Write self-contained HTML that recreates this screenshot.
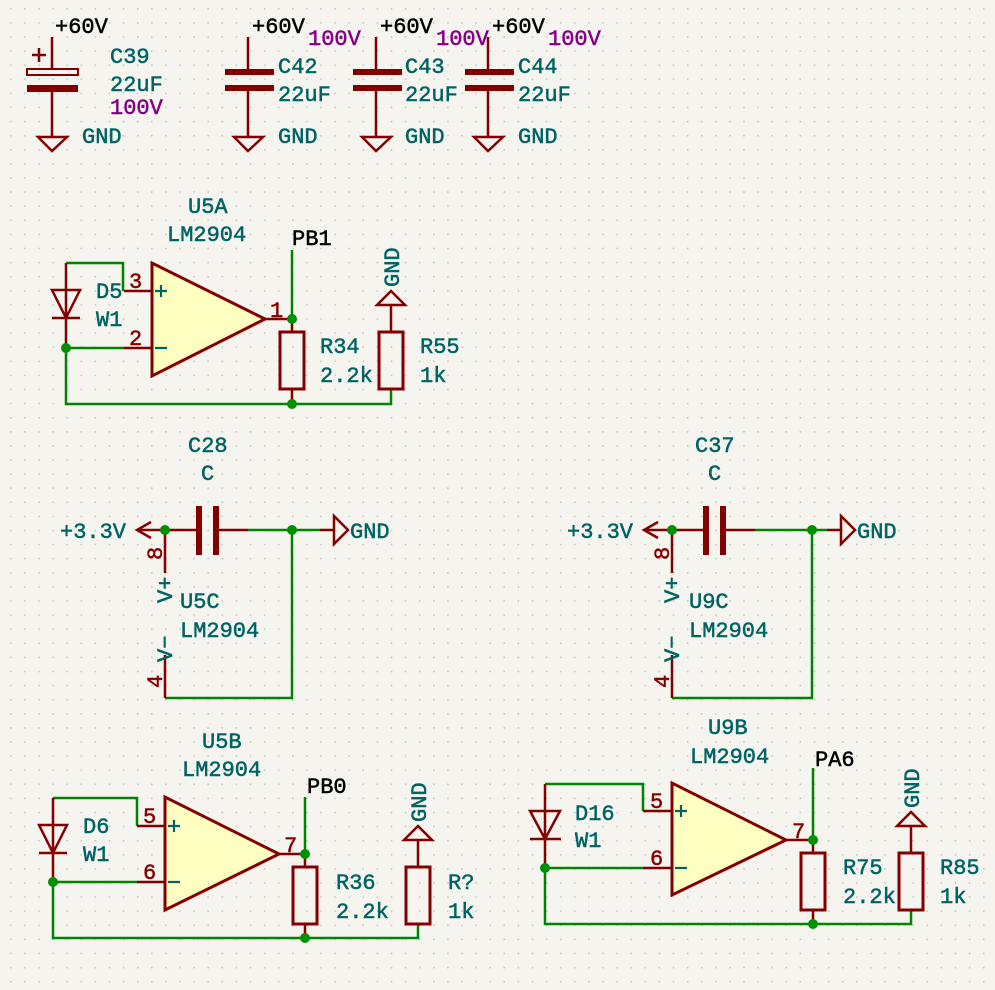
<!DOCTYPE html>
<html><head><meta charset="utf-8"><style>
html,body{margin:0;padding:0;background:#f5f4ef;}
svg{display:block}
text{font-family:"Liberation Mono",monospace;font-size:22px;fill:#006464;stroke:#006464;stroke-width:0.5}
.k{fill:#000;stroke:#000}.p{fill:#840084;stroke:#840084}.r{fill:#840000;stroke:#840000}
.w{stroke:#008400;stroke-width:2.5;fill:none}
.d{stroke:#840000;stroke-width:2.5;fill:none}
.t{stroke:#840000;stroke-width:6;fill:none}
.o{stroke:#840000;stroke-width:3;fill:#ffffc2}
.s{stroke:#006464;stroke-width:2.2;fill:none}
.j{fill:#009000}
</style></head><body>
<svg width="995" height="990" viewBox="0 0 995 990" xmlns="http://www.w3.org/2000/svg">
<defs><pattern id="g" x="10" y="8" width="14.1" height="14.1" patternUnits="userSpaceOnUse"><rect x="0" y="0" width="1.6" height="1.6" fill="#c8c8c8"/></pattern></defs>
<rect width="995" height="990" fill="url(#g)"/>

<!-- C39 -->
<path class="d" d="M52 37V69M52 91V137M38 137H67L52 151Z"/>
<rect x="27" y="69" width="51" height="6" fill="none" stroke="#840000" stroke-width="2"/>
<rect x="27" y="85" width="51" height="7" fill="#840000"/>
<path class="d" d="M32 55H46M39 48V62"/>
<text class="k" x="55" y="33">+60V</text>
<text x="110" y="63">C39</text><text x="110" y="91">22uF</text><text class="p" x="110" y="114">100V</text>
<text x="82" y="143">GND</text>

<!-- C42/43/44 -->
<g>
<path class="d" d="M248 37V72M248 88V137M234 137H263L248 151Z"/><path class="t" d="M225 72H274M225 88H274"/>
<text class="k" x="252" y="33">+60V</text><text class="p" x="308" y="45">100V</text>
<text x="278" y="73">C42</text><text x="278" y="101">22uF</text><text x="278" y="143">GND</text>
</g>
<g>
<path class="d" d="M376 37V72M376 88V137M362 137H391L376 151Z"/><path class="t" d="M353 72H402M353 88H402"/>
<text class="k" x="380" y="33">+60V</text><text class="p" x="436" y="45">100V</text>
<text x="405" y="73">C43</text><text x="405" y="101">22uF</text><text x="405" y="143">GND</text>
</g>
<g>
<path class="d" d="M488 37V72M488 88V137M474 137H503L488 151Z"/><path class="t" d="M465 72H514M465 88H514"/>
<text class="k" x="492" y="33">+60V</text><text class="p" x="548" y="45">100V</text>
<text x="518" y="73">C44</text><text x="518" y="101">22uF</text><text x="518" y="143">GND</text>
</g>

<!-- U5A -->
<path class="w" d="M66 263H123V291M66 348H124M66 348V404H391V389M292 250V319"/>
<path class="d" d="M124 291H152M124 348H152M265 319H292M66 263V348M52 290H80L66 318ZM52 318H80M292 319V332M292 389V404M391 305V332M377 305H405L391 291Z"/>
<polygon class="o" points="152,263 152,376 265,319"/>
<path class="s" d="M155 291H167M161 285V297M155 348H167"/>
<rect x="280" y="332" width="24" height="57" fill="none" stroke="#840000" stroke-width="3"/>
<rect x="379" y="332" width="24" height="57" fill="none" stroke="#840000" stroke-width="3"/>
<circle class="j" cx="292" cy="319" r="5"/><circle class="j" cx="292" cy="404" r="5"/><circle class="j" cx="66" cy="348" r="5"/>
<text class="r" x="129" y="288">3</text><text class="r" x="129" y="345">2</text><text class="r" x="270" y="317">1</text>
<text class="k" x="292" y="245">PB1</text>
<text x="188" y="213">U5A</text><text x="167" y="241">LM2904</text>
<text x="96" y="298">D5</text><text x="96" y="326">W1</text>
<text x="320" y="353">R34</text><text x="320" y="382">2.2k</text>
<text x="420" y="353">R55</text><text x="420" y="382">1k</text>
<text transform="translate(399,287) rotate(-90)">GND</text>

<!-- U5C -->
<path class="w" d="M248 530H320M292 530V698H165"/>
<path class="d" d="M137 530H199M151 522L137 530L151 538M216 530H248M320 530H334M334 516V544L348 530ZM165 530V573M165 655V698"/>
<path class="t" d="M199 506V555M216 506V555"/>
<circle class="j" cx="165" cy="530" r="5"/><circle class="j" cx="292" cy="530" r="5"/>
<text x="60" y="538">+3.3V</text><text x="350" y="538">GND</text>
<text x="188" y="452">C28</text><text x="201" y="480">C</text>
<text x="180" y="608">U5C</text><text x="180" y="637">LM2904</text>
<text class="r" transform="translate(162,560) rotate(-90)">8</text>
<text class="r" transform="translate(162,688) rotate(-90)">4</text>
<text transform="translate(172,603) rotate(-90)">V+</text>
<text transform="translate(172,662) rotate(-90)">V−</text>

<!-- U9C -->
<path class="w" d="M755 530H827M812 530V698H672"/>
<path class="d" d="M644 530H706M658 522L644 530L658 538M723 530H755M827 530H841M841 516V544L855 530ZM672 530V573M672 655V698"/>
<path class="t" d="M706 506V555M723 506V555"/>
<circle class="j" cx="672" cy="530" r="5"/><circle class="j" cx="812" cy="530" r="5"/>
<text x="567" y="538">+3.3V</text><text x="857" y="538">GND</text>
<text x="695" y="452">C37</text><text x="708" y="480">C</text>
<text x="689" y="608">U9C</text><text x="689" y="637">LM2904</text>
<text class="r" transform="translate(669,560) rotate(-90)">8</text>
<text class="r" transform="translate(669,688) rotate(-90)">4</text>
<text transform="translate(679,603) rotate(-90)">V+</text>
<text transform="translate(679,662) rotate(-90)">V−</text>

<!-- U5B -->
<path class="w" d="M53 798H137V826M53 882H137M53 882V938H418V924M305 797V854"/>
<path class="d" d="M137 826H165M137 882H165M279 854H305M53 798V882M39 825H67L53 853ZM39 853H67M305 854V867M305 924V938M418 840V867M404 840H432L418 826Z"/>
<polygon class="o" points="165,797 165,910 279,854"/>
<path class="s" d="M168 826H180M174 820V832M168 882H180"/>
<rect x="293" y="867" width="24" height="57" fill="none" stroke="#840000" stroke-width="3"/>
<rect x="406" y="867" width="24" height="57" fill="none" stroke="#840000" stroke-width="3"/>
<circle class="j" cx="305" cy="854" r="5"/><circle class="j" cx="305" cy="938" r="5"/><circle class="j" cx="53" cy="882" r="5"/>
<text class="r" x="143" y="823">5</text><text class="r" x="143" y="879">6</text><text class="r" x="284" y="852">7</text>
<text class="k" x="307" y="793">PB0</text>
<text x="202" y="748">U5B</text><text x="182" y="776">LM2904</text>
<text x="83" y="833">D6</text><text x="83" y="861">W1</text>
<text x="336" y="889">R36</text><text x="336" y="918">2.2k</text>
<text x="448" y="889">R?</text><text x="448" y="918">1k</text>
<text transform="translate(426,822) rotate(-90)">GND</text>

<!-- U9B -->
<path class="w" d="M545 784H643V811M545 868H643M545 868V924H911V910M813 768V840"/>
<path class="d" d="M643 811H672M643 868H672M786 840H813M545 784V868M530 811H560L545 839ZM530 839H561M813 840V853M813 910V924M911 826V853M897 826H925L911 812Z"/>
<polygon class="o" points="672,783 672,895 786,840"/>
<path class="s" d="M675 811H687M681 805V817M675 868H687"/>
<rect x="801" y="853" width="24" height="57" fill="none" stroke="#840000" stroke-width="3"/>
<rect x="899" y="853" width="24" height="57" fill="none" stroke="#840000" stroke-width="3"/>
<circle class="j" cx="813" cy="840" r="5"/><circle class="j" cx="813" cy="924" r="5"/><circle class="j" cx="545" cy="868" r="5"/>
<text class="r" x="650" y="808">5</text><text class="r" x="650" y="865">6</text><text class="r" x="792" y="838">7</text>
<text class="k" x="815" y="766">PA6</text>
<text x="708" y="734">U9B</text><text x="690" y="763">LM2904</text>
<text x="575" y="820">D16</text><text x="575" y="847">W1</text>
<text x="843" y="874">R75</text><text x="843" y="903">2.2k</text>
<text x="940" y="874">R85</text><text x="940" y="903">1k</text>
<text transform="translate(919,808) rotate(-90)">GND</text>
</svg>
</body></html>
